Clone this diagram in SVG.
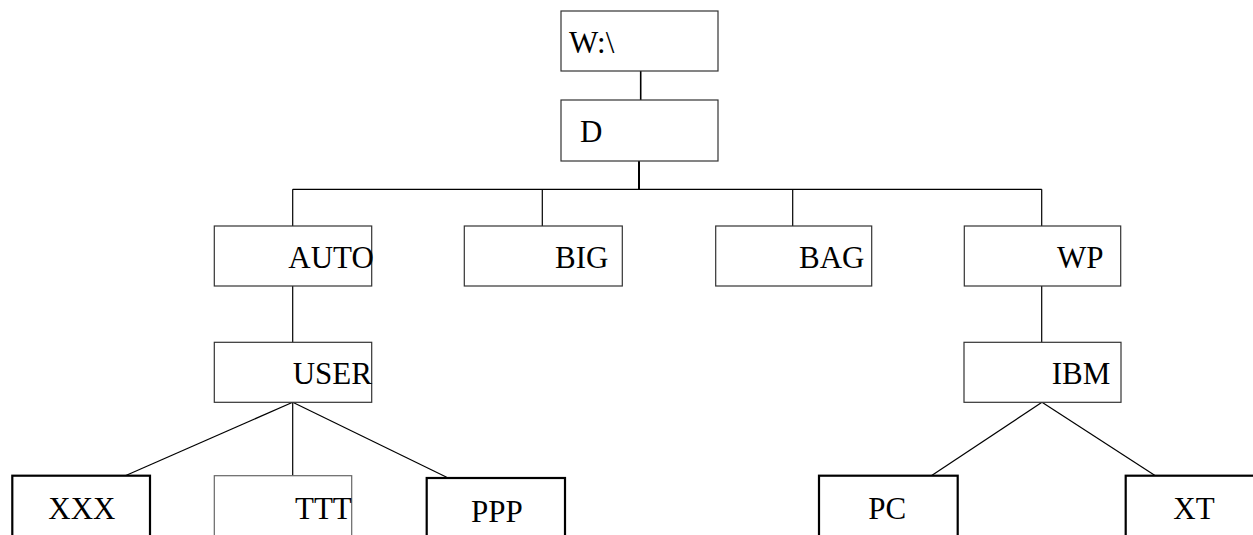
<svg xmlns="http://www.w3.org/2000/svg" width="1253" height="535" viewBox="0 0 1253 535">
<style>
text{font-family:"Liberation Serif","Times New Roman",serif;font-size:31px;fill:#000}
.b{fill:#fff;stroke:#333;stroke-width:1.2}
.k{fill:#fff;stroke:#000;stroke-width:2.2}
.g{fill:#fff;stroke:#666;stroke-width:1.2}
.c{stroke:#000;stroke-width:1.2;fill:none}
</style>
<rect width="1253" height="535" fill="#fff"/>
<g id="connectors">
<line class="c" x1="640.7" y1="71" x2="640.7" y2="100" style="stroke-width:1.6"/>
<line class="c" x1="639" y1="161" x2="639" y2="189.3" style="stroke-width:2"/>
<line class="c" x1="292.7" y1="189.3" x2="1041.7" y2="189.3"/>
<line class="c" x1="292.7" y1="189.3" x2="292.7" y2="226"/>
<line class="c" x1="542.3" y1="189.3" x2="542.3" y2="226"/>
<line class="c" x1="792.7" y1="189.3" x2="792.7" y2="226"/>
<line class="c" x1="1041.7" y1="189.3" x2="1041.7" y2="226"/>
<line class="c" x1="292.7" y1="286" x2="292.7" y2="342.3"/>
<line class="c" x1="1041.7" y1="286" x2="1041.7" y2="342.3"/>
<line class="c" x1="292.7" y1="402.3" x2="120.7" y2="477.7"/>
<line class="c" x1="292.7" y1="402.3" x2="292.7" y2="475.7"/>
<line class="c" x1="292.7" y1="402.3" x2="446.7" y2="477.3"/>
<line class="c" x1="1042" y1="402.3" x2="928.3" y2="477.7"/>
<line class="c" x1="1042" y1="402.3" x2="1155" y2="475.5"/>
</g>
<g id="node-w"><rect class="b" x="561" y="11" width="157" height="60"/><text x="569" y="53.3">W:\</text></g>
<g id="node-d"><rect class="b" x="561" y="100" width="157" height="61"/><text x="580" y="141.7">D</text></g>
<g id="node-auto"><rect class="b" x="214.3" y="226" width="157.4" height="60"/><text x="288.3" y="268.3">AUTO</text></g>
<g id="node-big"><rect class="b" x="464.3" y="226" width="158" height="60"/><text x="555" y="268.3">BIG</text></g>
<g id="node-bag"><rect class="b" x="715.7" y="226" width="156" height="60"/><text x="799" y="268.3">BAG</text></g>
<g id="node-wp"><rect class="b" x="964.3" y="226" width="156.4" height="60"/><text x="1057" y="268.3">WP</text></g>
<g id="node-user"><rect class="b" x="214.3" y="342.3" width="157.4" height="60"/><text x="292.7" y="384">USER</text></g>
<g id="node-ibm"><rect class="b" x="964" y="342.3" width="157" height="60"/><text x="1051.7" y="383.5">IBM</text></g>
<g id="node-xxx"><rect class="k" x="12.3" y="475.7" width="137.7" height="80"/><text x="48.3" y="519">XXX</text></g>
<g id="node-ttt"><rect class="g" x="214.3" y="475.7" width="137.4" height="80"/><text x="295" y="519">TTT</text></g>
<g id="node-ppp"><rect class="k" x="426.7" y="478" width="138.3" height="80"/><text x="471" y="521.7">PPP</text></g>
<g id="node-pc"><rect class="k" x="819" y="475.7" width="138.7" height="80"/><text x="868.3" y="519">PC</text></g>
<g id="node-xt"><rect class="k" x="1125.7" y="475.7" width="140" height="80"/><text x="1173.3" y="519">XT</text></g>
</svg>
